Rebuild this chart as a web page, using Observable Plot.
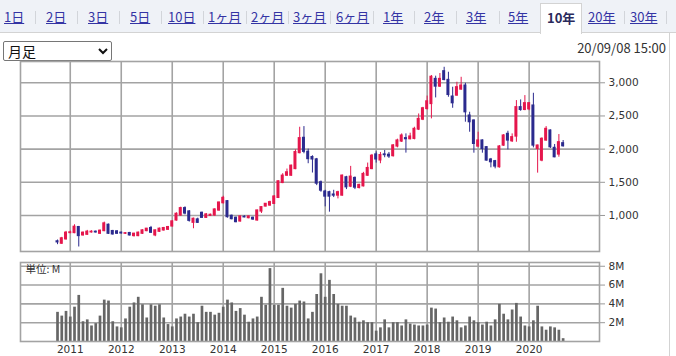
<!DOCTYPE html>
<html><head><meta charset="utf-8">
<script src="https://cdn.jsdelivr.net/npm/d3@7"></script>
<script src="https://cdn.jsdelivr.net/npm/@observablehq/plot@0.6"></script>
<style>
html,body{margin:0;padding:0;background:#fff;}
#wrap{position:relative;width:676px;height:356px;overflow:hidden;font-family:"Noto Sans CJK JP","Noto Sans",sans-serif;}
#tabbar{position:absolute;left:0;top:0;width:676px;height:32px;background:#eff2f7;border-bottom:1px solid #d3d3d3;}
.tab{position:absolute;top:9px;font-size:13px;line-height:16px;color:#3434a4;text-decoration:underline;white-space:nowrap;}
.sep{position:absolute;top:11px;width:1px;height:13px;background:#d2d5da;}
#seltab{position:absolute;left:540px;top:3px;width:40px;height:30px;background:#fff;border:1px solid #d3d3d3;border-bottom:none;}
#seltab span{position:absolute;left:6px;top:6px;font-size:13px;line-height:16px;font-weight:bold;color:#2a2a5c;}
#rborder{position:absolute;left:669px;top:33px;width:1px;height:330px;background:#d3d3d3;}
#dd{position:absolute;left:3px;top:41px;width:107px;height:18px;border:1px solid #767676;border-radius:2px;background:#fff;}
#dd span{position:absolute;left:4px;top:0px;font-size:14px;line-height:18px;color:#111;}
#dd svg{position:absolute;left:94px;top:6px;}
#stamp{position:absolute;right:10px;top:39px;font-size:13px;line-height:18px;color:#333;}
#price{position:absolute;left:0;top:55px;}
#vol{position:absolute;left:0;top:256px;}
#price svg text,#vol svg text{fill:#333;}
</style></head>
<body><div id="wrap">
<div id="tabbar"></div>
<div id="rborder"></div>
<div id="dd"><span>月足</span><svg width="10" height="7"><polyline points="1,1 5,5 9,1" fill="none" stroke="#111" stroke-width="2"/></svg></div>
<div id="stamp">20/09/08 15:00</div>
<div id="price"></div>
<div id="vol"></div>
</div>
<script>
// ---- page text ----
const tabLabels = ["1日","2日","3日","5日","10日","1ヶ月","2ヶ月","3ヶ月","6ヶ月","1年","2年","3年","5年","10年","20年","30年"];
const tabLeft   = [4,46,88,130,168,208,251,293,336,383,424,466,508,547,588,630];
const sepLeft   = [35,77,119,161,203,246,288,330,373,414,456,499,624,666];
const selectedTab = "10年";

// ---- chart data (monthly candles, Oct 2010 – Sep 2020) ----
const open = [610,575,640,735,735,825,700,710,745,755,
  725,765,860,765,760,740,725,735,690,690,
  725,765,810,700,755,775,785,835,925,1000,
  1110,1060,890,940,1040,965,995,1000,1075,1185,
  1215,995,965,910,980,960,965,925,1060,1135,
  1150,1175,1265,1490,1600,1600,1700,1940,2170,1960,
  1880,1845,1500,1360,1350,1315,1300,1300,1575,1435,
  1565,1415,1440,1600,1700,1920,1830,1920,1915,1895,
  2040,2115,2165,2150,2155,2295,2445,2605,2680,3058,
  2943,3174,3043,2792,2807,2898,2958,2506,2431,2039,
  2130,2029,1843,1818,1728,2054,2230,2119,2190,2632,
  2591,2600,2657,2004,1828,2130,2280,2019,1919,2089];
const high = [630,670,760,765,860,835,750,775,770,765,
  780,900,870,775,770,750,740,745,730,750,
  785,805,835,780,810,820,835,920,1040,1125,
  1130,1075,960,960,1050,1030,1020,1100,1200,1290,
  1225,1005,975,990,995,990,975,1080,1130,1180,
  1215,1300,1520,1630,1700,1760,1990,2330,2340,2000,
  1900,1860,1520,1380,1365,1380,1365,1610,1590,1740,
  1580,1470,1650,1790,1920,1960,1950,1980,1950,2070,
  2150,2230,2230,2240,2330,2530,2630,2800,3110,3100,
  3140,3234,3159,2933,3008,3083,2993,2556,2440,2255,
  2140,2039,1860,1830,2054,2220,2270,2230,2732,2742,
  2807,2700,2842,2060,2170,2340,2290,2070,2220,2130];
const low = [560,565,630,725,725,525,690,700,735,735,
  715,755,715,705,715,720,715,690,675,680,
  715,755,730,680,745,765,775,825,915,990,
  1010,900,800,880,960,955,990,990,1065,1175,
  960,935,890,900,965,950,925,915,1030,1130,
  1140,1165,1255,1480,1590,1590,1690,1930,1930,1780,
  1640,1450,1350,1130,1050,1270,1250,1290,1390,1420,
  1390,1400,1430,1590,1690,1790,1780,1870,1860,1880,
  2020,2100,1940,2140,2140,2280,2430,2590,2456,2772,
  2930,3030,2782,2616,2800,2890,2406,2255,1939,2030,
  1939,1820,1718,1703,1713,2040,1989,2100,2104,2571,
  2580,2580,2019,1638,1810,2120,2010,1870,1878,2030];
const close = [595,655,740,745,830,690,740,755,755,745,
  770,880,725,715,725,730,732,700,725,740,
  775,800,740,775,800,810,825,910,1025,1110,
  1030,920,950,890,965,1015,1010,1090,1195,1265,
  975,945,900,985,972,985,940,1075,1125,1175,
  1200,1285,1515,1600,1650,1750,1955,2165,1960,1850,
  1845,1480,1375,1285,1285,1300,1350,1600,1425,1585,
  1420,1460,1625,1715,1900,1845,1910,1910,1890,2055,
  2130,2205,2150,2190,2305,2455,2615,2720,3090,2943,
  3058,3043,2817,2692,2933,2958,2556,2406,2079,2130,
  2004,1828,1803,1738,2039,2205,2130,2180,2632,2591,
  2692,2692,2054,2054,2155,2305,2029,1878,2104,2044];
const volume = [3.1,2.7,3.2,2.6,3.65,4.9,2.1,2.3,1.65,1.9,
  2.7,4.4,4.3,2.1,1.55,1.45,2.4,3.65,4.1,4.7,
  3.9,2.5,3.9,3.75,3.9,2.5,1.8,1.55,2.4,2.6,
  2.9,2.6,2.9,2.0,3.75,3.1,3.1,2.8,3.0,3.65,
  4.4,4.1,3.2,3.5,2.8,2.05,2.4,2.6,4.7,3.85,
  7.75,3.85,3.85,5.65,3.75,3.55,3.95,4.3,4.2,2.4,
  3.1,5.0,7.2,4.7,6.5,5.0,3.95,3.75,3.75,2.7,
  2.5,2.05,2.2,2.0,2.0,1.1,1.45,2.3,1.45,2.0,
  2.0,1.65,2.3,1.85,1.75,1.65,1.65,1.75,3.55,3.45,
  2.0,2.5,2.05,2.6,2.2,1.45,1.65,2.6,2.2,2.0,
  1.75,2.05,1.65,2.3,3.95,2.9,2.3,3.35,4.05,2.6,
  1.65,1.55,2.2,3.75,1.55,1.2,1.55,1.45,1.2,0.3];
const yearTicks = [2011,2012,2013,2014,2015,2016,2017,2018,2019,2020];
const priceTicks = [1000,1500,2000,2500,3000];
const volTicks = [2,4,6,8];
const volUnit = "単位: M";

// ---- build page ----
const bar = document.getElementById("tabbar");
tabLabels.forEach((t,i)=>{
  if (t === selectedTab) {
    const d = document.createElement("div"); d.id = "seltab";
    const s = document.createElement("span"); s.textContent = t; d.appendChild(s); bar.appendChild(d);
  } else {
    const s = document.createElement("span"); s.className = "tab"; s.style.left = tabLeft[i]+"px"; s.textContent = t; bar.appendChild(s);
  }
});
sepLeft.forEach(x=>{const s=document.createElement("div");s.className="sep";s.style.left=x+"px";bar.appendChild(s);});

const months = d3.utcMonth.range(new Date(Date.UTC(2010,9,1)), new Date(Date.UTC(2020,9,1)));
const tOf = d => d.getUTCFullYear() + d.getUTCMonth()/12;
const candles = months.map((m,i)=>({t:tOf(m), o:open[i], h:high[i], l:low[i], c:close[i], v:volume[i], up:close[i]>=open[i]}));
const UP="#e5164c", DOWN="#2b2a8e", GRID="#a3a3a3", GW=1.6;
const xDomain=[2010.024,2021.38];
const hw = 1.5/51;
const ups = candles.filter(d=>d.up), downs = candles.filter(d=>!d.up);
const fmtComma = d3.format(",");
const common = {width:676, marginLeft:20, marginRight:77,
  style:{fontFamily:"'DejaVu Sans'", fontSize:"10.5px", color:"#999", background:"transparent", overflow:"visible"}};

const price = Plot.plot({...common, height:200, marginTop:6, marginBottom:4,
  x:{domain:xDomain, axis:null},
  y:{domain:[457,3321], axis:"right", ticks:priceTicks, tickFormat:d=>fmtComma(d), tickSize:5, tickPadding:4, label:null},
  marks:[
    Plot.ruleX(yearTicks,{stroke:GRID, strokeWidth:GW}),
    Plot.ruleY(priceTicks,{stroke:GRID, strokeWidth:GW}),
    Plot.frame({stroke:GRID, strokeWidth:GW}),
    Plot.ruleX(ups,{x:"t", y1:"l", y2:"h", stroke:UP, strokeWidth:1}),
    Plot.ruleX(downs,{x:"t", y1:"l", y2:"h", stroke:DOWN, strokeWidth:1}),
    Plot.rect(ups,{x1:d=>d.t-hw, x2:d=>d.t+hw, y1:"o", y2:"c", fill:UP, insetTop:-0.6, insetBottom:-0.6}),
    Plot.rect(downs,{x1:d=>d.t-hw, x2:d=>d.t+hw, y1:"o", y2:"c", fill:DOWN, insetTop:-0.6, insetBottom:-0.6})
  ]});
document.getElementById("price").appendChild(price);

const vol = Plot.plot({...common, height:100, marginTop:6, marginBottom:15,
  x:{domain:xDomain, axis:"bottom", ticks:yearTicks, tickFormat:d=>String(d), tickSize:0, tickPadding:4, label:null},
  y:{domain:[0,8.4], axis:"right", ticks:volTicks, tickFormat:d=>d+"M", tickSize:5, tickPadding:4, label:null},
  marks:[
    Plot.ruleX(yearTicks,{stroke:GRID, strokeWidth:GW}),
    Plot.ruleY(volTicks,{stroke:GRID, strokeWidth:GW}),
    Plot.ruleX(candles,{x:"t", y1:0, y2:"v", stroke:"#666", strokeWidth:2.7}),
    Plot.frame({stroke:GRID, strokeWidth:GW}),
    Plot.text([volUnit],{frameAnchor:"top-left", dx:5, dy:3, fontSize:10.5, fontFamily:"'Noto Sans CJK JP'"})
  ]});
document.getElementById("vol").appendChild(vol);
</script>
</body></html>
